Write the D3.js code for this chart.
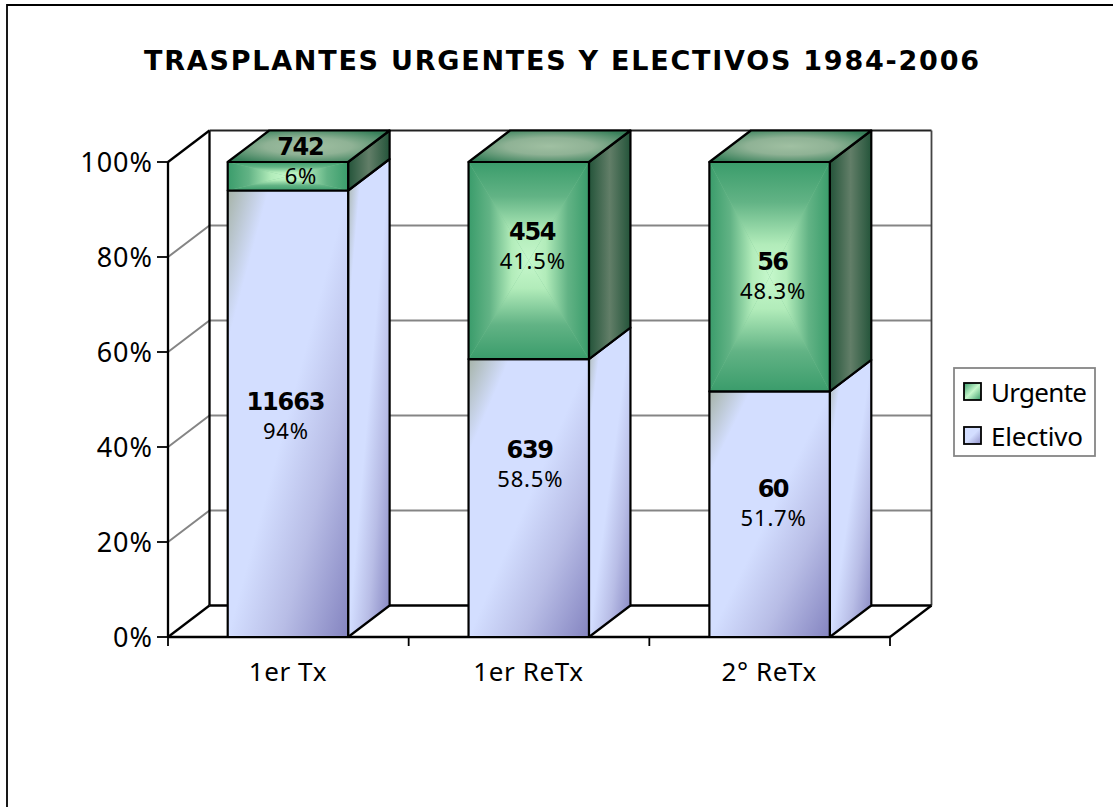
<!DOCTYPE html>
<html><head><meta charset="utf-8">
<script src="https://d3js.org/d3.v7.min.js"></script>
<style>html,body{margin:0;padding:0;background:#fff}svg{display:block}text{font-family:"Noto Sans",sans-serif;fill:#000}</style>
</head><body><div id="c"></div>
<script>
const title = "TRASPLANTES URGENTES Y ELECTIVOS 1984-2006";
const categories = ["1er Tx","1er ReTx","2° ReTx"];
const electivoPct = [94,58.5,51.7];
const urgentePct = [6,41.5,48.3];
const electivoN = [11663,639,60];
const urgenteN = [742,454,56];
const electivoPctLabel = ["94%","58.5%","51.7%"];
const urgentePctLabel = ["6%","41.5%","48.3%"];
// where the count label of each segment sits, in axis units
const electivoLabelAt = [49.7,39.6,31.4];
const urgenteLabelAt = [103.4,85.5,79.2];
const yTicks = [0,20,40,60,80,100];
const legendItems = ["Urgente","Electivo"];

const W=1113,H=807,dx=41.5,dy=-31.5;
const elecShift=[-2,1.5,4], urgShift=[13,4,3.5];
const svg=d3.select("#c").append("svg").attr("width",W).attr("height",H);
const y=d3.scaleLinear().domain([0,100]).range([637,162]);
const xAxisS=d3.scaleBand().domain(categories).range([168,890]);
const x=d3.scaleBand().domain(categories).range([167.5,890]).paddingInner(.5).paddingOuter(.25);
const x0=168,x1=890;
const defs=svg.append("defs");
function grad(id,stops,c){const g=defs.append("linearGradient").attr("id",id).attr("x1",c[0]).attr("y1",c[1]).attr("x2",c[2]).attr("y2",c[3]);
 stops.forEach(s=>g.append("stop").attr("offset",s[0]).attr("stop-color",s[1]));}
const elecStops=[[0,"#a6b3a8"],[.17,"#d3deff"],[.5,"#d3deff"],[.72,"#b8bde6"],[1,"#8484c0"]];
grad("elec",elecStops,[0,0,1,1]);
const uStops=[[0,"#3a9c6b"],[.35,"#62b385"],[.72,"#b2ecba"],[1,"#c6f8cc"]];
grad("uT",uStops,[0,0,0,1]);grad("uB",uStops,[0,1,0,0]);grad("uL",uStops,[0,0,1,0]);grad("uR",uStops,[1,0,0,0]);
grad("uSide",[[0,"#24543a"],[.5,"#627e68"],[1,"#24543a"]],[0,0,1,0]);
const rg=defs.append("radialGradient").attr("id","uTop").attr("cx",.5).attr("cy",.5).attr("r",.6);
[[0,"#a0c0a2"],[.45,"#8fb295"],[1,"#38805a"]].forEach(s=>rg.append("stop").attr("offset",s[0]).attr("stop-color",s[1]));
grad("lgU",[[0,"#3a9c6b"],[.5,"#c6f8cc"],[1,"#3a9c6b"]],[0,0,1,1]);
grad("lgE",[[0,"#d3deff"],[.5,"#d3deff"],[1,"#9090c8"]],[0,0,1,1]);

svg.append("path").attr("d",`M7,${H}V5H${W}`).attr("fill","none").attr("stroke","#000").attr("stroke-width",1.8);

svg.append("text").attr("x",144).attr("y",70).attr("font-size",27).attr("font-weight","bold").attr("style","font-family:'DejaVu Sans'").attr("textLength",835).attr("lengthAdjust","spacing").text(title);

const wall=svg.append("g").attr("fill","none");
yTicks.filter(t=>t>0&&t<100).forEach(t=>{
 wall.append("path").attr("d",`M${x0},${y(t)}l${dx},${dy}H${x1+dx}`).attr("stroke","#858585").attr("stroke-width",2);
});
const ln=(d,c="#000",w=2.3)=>wall.append("path").attr("d",d).attr("stroke",c).attr("stroke-width",w);
ln(`M${x0+dx},${y(0)+dy}V${y(100)+dy}`);
ln(`M${x0+dx},${y(100)+dy}H${x1+dx}`,"#222",2);
ln(`M${x1+dx},${y(100)+dy}V${y(0)+dy}`,"#444",1.8);
ln(`M${x0+dx},${y(0)+dy}H${x1+dx}`);
ln(`M${x0},${y(100)}l${dx},${dy}`);
ln(`M${x0},${y(0)}l${dx},${dy}`);
ln(`M${x1},${y(0)}l${dx},${dy}`);
ln(`M${x0},${y(100)}V${y(0)}`);
ln(`M${x0},${y(0)}H${x1}`);

const axisG=svg.append("g");
yTicks.forEach(t=>{
 axisG.append("path").attr("d",`M${x0-11},${y(t)}H${x0}`).attr("stroke","#000").attr("stroke-width",1.8);
 axisG.append("text").attr("x",x0-15).attr("y",y(t)+9.5).attr("text-anchor","end").attr("font-size",27).attr("letter-spacing",1).text(t+"%");
});
categories.forEach((c,i)=>{
 axisG.append("text").attr("x",xAxisS(c)+xAxisS.bandwidth()/2-0.5).attr("y",681).attr("text-anchor","middle").attr("font-size",26).attr("letter-spacing",.6).text(c);
});
[...categories.map(c=>xAxisS(c)),x1].forEach(v=>axisG.append("path").attr("d",`M${v},${y(0)}v9`).attr("stroke","#000").attr("stroke-width",1.8));

const bars=svg.append("g");
categories.forEach((c,i)=>{
 const l=x(c),w=x.bandwidth(),r=l+w;
 const yb=y(0),ym=y(electivoPct[i]),yt=y(100);
 const g=bars.append("g").attr("stroke-linejoin","round");
 const st=s=>s.attr("stroke","#000").attr("stroke-width",2.2);
 g.append("path").attr("d",`M${r},${yb}l${dx},${dy}V${ym+dy}l${-dx},${-dy}Z`).attr("fill","url(#elec)").call(st);
 g.append("rect").attr("x",l).attr("y",ym).attr("width",w).attr("height",yb-ym).attr("fill","url(#elec)").call(st);
 g.append("path").attr("d",`M${r},${ym}l${dx},${dy}V${yt+dy}l${-dx},${-dy}Z`).attr("fill","url(#uSide)").call(st);
 g.append("path").attr("d",`M${l},${yt}l${dx},${dy}H${r+dx}l${-dx},${-dy}Z`).attr("fill","url(#uTop)").call(st);
 const cx=(l+r)/2,cy=(ym+yt)/2;
 g.append("rect").attr("x",l).attr("y",yt).attr("width",w).attr("height",ym-yt).attr("fill","#7cc495");
 [["uT",[l,yt],[r,yt]],["uB",[l,ym],[r,ym]],["uL",[l,yt],[l,ym]],["uR",[r,yt],[r,ym]]].forEach(t=>{
  g.append("path").attr("d",`M${t[1]}L${t[2]}L${cx},${cy}Z`).attr("fill",`url(#${t[0]})`);
 });
 g.append("rect").attr("x",l).attr("y",yt).attr("width",w).attr("height",ym-yt).attr("fill","none").call(st);
 const lab=(at,n,p,s)=>{
  g.append("text").attr("x",cx+s).attr("y",y(at)+9).attr("text-anchor","middle").attr("font-size",24).attr("font-weight","bold").attr("style","font-family:'DejaVu Sans'").attr("textLength",String(n).length*15.8).text(n);
  g.append("text").attr("x",cx+s).attr("y",y(at)+38.5).attr("text-anchor","middle").attr("font-size",22).attr("letter-spacing",.8).text(p);
 };
 lab(electivoLabelAt[i],electivoN[i],electivoPctLabel[i],elecShift[i]);
 lab(urgenteLabelAt[i],urgenteN[i],urgentePctLabel[i],urgShift[i]);
});

const lg=svg.append("g");
lg.append("rect").attr("x",954).attr("y",368).attr("width",141).attr("height",88).attr("fill","#fff").attr("stroke","#868686").attr("stroke-width",1.8);
legendItems.forEach((t,i)=>{
 const yy=383+i*44;
 lg.append("rect").attr("x",964).attr("y",yy).attr("width",17).attr("height",17).attr("fill",i?"url(#lgE)":"url(#lgU)").attr("stroke","#000").attr("stroke-width",1.8);
 lg.append("text").attr("x",991).attr("y",yy+18.5).attr("font-size",26).attr("textLength",i?92:96).text(t);
});
</script></body></html>
